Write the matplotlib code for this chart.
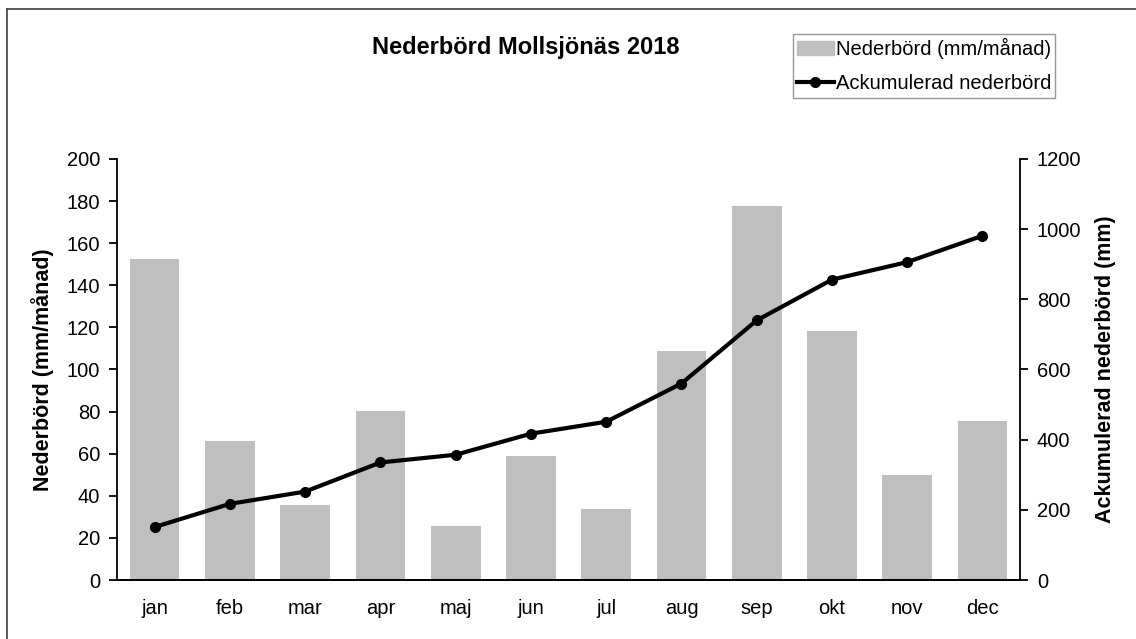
import numpy as np
import matplotlib.pyplot as plt
from matplotlib.lines import Line2D
from matplotlib import rcParams

rcParams['font.family'] = ['Liberation Sans', 'DejaVu Sans']

#####################################

months = ["jan", "feb", "mar", "apr", "maj", "jun", "jul", "aug", "sep", "okt", "nov", "dec"]
monthly = [152.5, 66.0, 35.6, 80.3, 25.7, 58.9, 33.7, 108.8, 177.7, 118.3, 49.9, 75.5]
accum = [151, 217, 252, 335, 357, 417, 451, 560, 740, 856, 906, 981]

cBAR = "#BFBFBF"
cLINE = "#000000"

####################################

fig = plt.figure(figsize=(11.36, 6.39), dpi=100)
ax = fig.add_axes([0.103, 0.0923, 0.795, 0.659])
ax2 = ax.twinx()

x = np.arange(len(months))
ax.bar(x, monthly, width=0.66, color=cBAR, zorder=1)
ax2.plot(x, accum, color=cLINE, lw=3, marker="o", ms=7, zorder=3)

ax.set_xlim(-0.5, 11.5)
ax.set_ylim(0, 200)
ax2.set_ylim(0, 1200)
ax.set_yticks(range(0, 201, 20))
ax2.set_yticks(range(0, 1201, 200))
ax.set_xticks(x)
ax.set_xticklabels(months)

for a in (ax, ax2):
    a.spines["top"].set_visible(False)
    for s in a.spines.values():
        s.set_linewidth(1.3)
    a.tick_params(axis="y", labelsize=14.5, length=6, width=1.3, direction="out")
ax2.spines["left"].set_visible(False)
ax.spines["right"].set_visible(False)
ax.tick_params(axis="x", labelsize=14.5, length=0, pad=14)
ax.tick_params(axis="y", pad=6)
ax2.tick_params(axis="y", pad=6)

ax.set_ylabel("Nederbörd (mm/månad)", fontsize=15.5, fontweight="bold", labelpad=9)
ax2.set_ylabel("Ackumulerad nederbörd (mm)", fontsize=15.5, fontweight="bold", labelpad=10)

fig.text(0.463, 0.926, "Nederbörd Mollsjönäs 2018", fontsize=17, fontweight="bold",
         ha="center", va="center")

handles = [plt.Rectangle((0, 0), 1, 1, color=cBAR),
           Line2D([0], [0], color=cLINE, lw=3, marker="o", ms=7)]
leg = fig.legend(handles, ["Nederbörd (mm/månad)", "Ackumulerad nederbörd"],
                 loc="upper left", bbox_to_anchor=(0.698, 0.947), fontsize=14.5,
                 frameon=True, fancybox=False, handlelength=1.8, handletextpad=0.1,
                 borderpad=0.22, labelspacing=0.75, borderaxespad=0)
leg.get_frame().set_edgecolor("#7F7F7F")
leg.get_frame().set_linewidth(1.0)

# outer frame (top and left edge of the chart area)
fig.add_artist(Line2D([0.006, 1.0], [0.986, 0.986], color="#404040", lw=1.2))
fig.add_artist(Line2D([0.006, 0.006], [0.0, 0.986], color="#404040", lw=1.2))

plt.savefig("out.png", dpi=100)
